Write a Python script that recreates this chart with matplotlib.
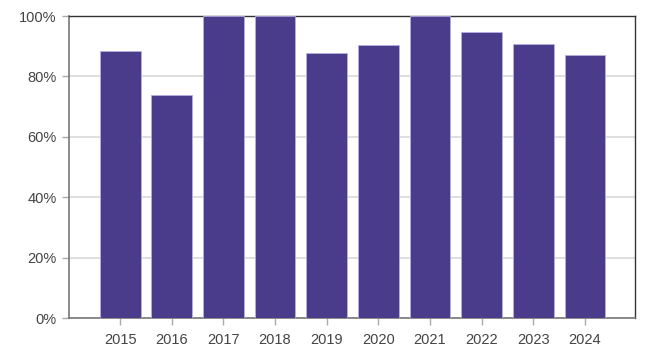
import matplotlib
matplotlib.use("Agg")
import matplotlib.pyplot as plt
from matplotlib.ticker import PercentFormatter

years = ["2015", "2016", "2017", "2018", "2019", "2020", "2021", "2022", "2023", "2024"]
values = [88.4, 73.7, 100, 100, 87.8, 90.4, 100, 94.8, 90.8, 87.1]
yticks = [0, 20, 40, 60, 80, 100]

plt.rcParams['font.family'] = ['Liberation Sans', 'DejaVu Sans']
fig = plt.figure(figsize=(6.52, 3.62), dpi=100)
ax = fig.add_axes([69/652, 1-318/362, (635-69)/652, (318-16)/362])

x = list(range(len(years)))
ax.bar(x, values, width=0.79, color="#4a3c8a", edgecolor="#b6aee0", linewidth=0.6, zorder=3)

ax.set_ylim(0, 100)
ax.set_xlim(-0.99, 9.97)
ax.set_yticks(yticks)
ax.yaxis.set_major_formatter(PercentFormatter(decimals=0))
ax.set_xticks(x)
ax.set_xticklabels(years)
ax.yaxis.grid(True, color="#d9d9d9", linewidth=1.2, zorder=0)
ax.set_axisbelow(True)

for s in ["top", "right"]:
    ax.spines[s].set_color("#333333")
    ax.spines[s].set_linewidth(1.0)
for s in ["left", "bottom"]:
    ax.spines[s].set_color("#777777")
    ax.spines[s].set_linewidth(1.2)

ax.tick_params(axis="both", colors="#aaaaaa", labelcolor="#444444", labelsize=10.5, length=5, width=1)
ax.tick_params(axis="x", pad=6)
ax.tick_params(axis="y", pad=4)

fig.savefig("out.png", dpi=100)
